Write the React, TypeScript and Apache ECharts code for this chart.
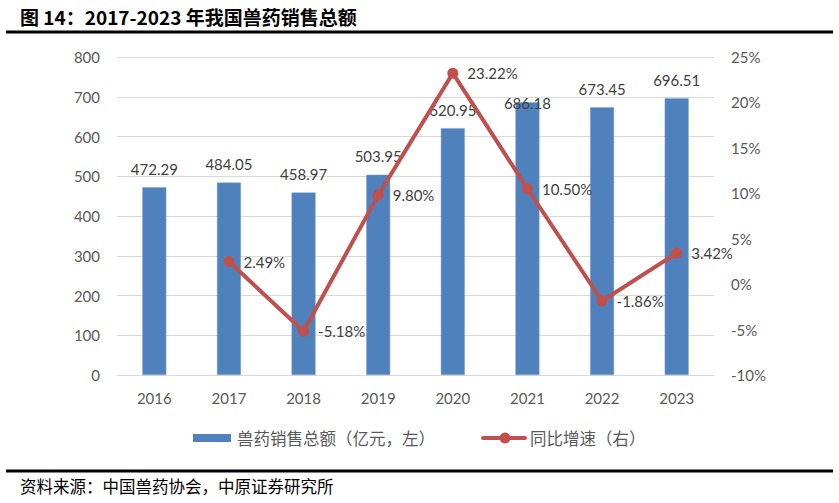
import React, { useEffect, useRef } from "react";
import * as echarts from "echarts";

const categories = ["2016", "2017", "2018", "2019", "2020", "2021", "2022", "2023"];
const salesValues = [472.29, 484.05, 458.97, 503.95, 620.95, 686.18, 673.45, 696.51];
const growthValues: (number | null)[] = [null, 2.49, -5.18, 9.8, 23.22, 10.5, -1.86, 3.42];
const leftTicks = { min: 0, max: 800, interval: 100 };
const rightTicks = { min: -10, max: 25, interval: 5 };

const TITLE = "图 14：2017-2023 年我国兽药销售总额";
const SOURCE = "资料来源：中国兽药协会，中原证券研究所";
const BAR_NAME = "兽药销售总额（亿元，左）";
const LINE_NAME = "同比增速（右）";

const LATIN = "Lato, 'Open Sans', 'Noto Sans CJK SC', sans-serif";
const CJK = "'Noto Sans CJK SC', sans-serif";
const BAR_COLOR = "#4f81bd";
const LINE_COLOR = "#c0504d";

export default function App() {
  const ref = useRef<HTMLDivElement>(null);
  useEffect(() => {
    if (!ref.current) return;
    const chart = echarts.init(ref.current, undefined, { renderer: "svg" });
    chart.setOption({
      animation: false,
      backgroundColor: "#ffffff",
      grid: { left: 117, right: 125, top: 57, bottom: 128, containLabel: false },
      graphic: [
        {
          type: "text",
          x: 20,
          y: 16,
          style: { text: TITLE, font: `bold 19px ${CJK}`, fill: "#000", verticalAlign: "middle" },
        },
        { type: "line", shape: { x1: 6, y1: 32, x2: 833, y2: 32 }, style: { stroke: "#000", lineWidth: 3 } },
        { type: "line", shape: { x1: 6, y1: 471, x2: 833, y2: 471 }, style: { stroke: "#000", lineWidth: 3 } },
        {
          type: "text",
          x: 20,
          y: 486,
          style: { text: SOURCE, font: `16.5px ${CJK}`, fill: "#000", verticalAlign: "middle" },
        },
        // legend
        { type: "rect", shape: { x: 193, y: 434, width: 38, height: 8 }, style: { fill: BAR_COLOR } },
        {
          type: "text",
          x: 237,
          y: 438,
          style: { text: BAR_NAME, font: `16.5px ${CJK}`, fill: "#595959", verticalAlign: "middle" },
        },
        {
          type: "line",
          shape: { x1: 483, y1: 438, x2: 525, y2: 438 },
          style: { stroke: LINE_COLOR, lineWidth: 4, lineCap: "round" },
        },
        { type: "circle", shape: { cx: 505, cy: 438, r: 5.5 }, style: { fill: LINE_COLOR } },
        {
          type: "text",
          x: 530,
          y: 438,
          style: { text: LINE_NAME, font: `16.5px ${CJK}`, fill: "#595959", verticalAlign: "middle" },
        },
      ],
      xAxis: {
        type: "category",
        data: categories,
        axisLine: { show: true, lineStyle: { color: "#d9d9d9", width: 1 } },
        axisTick: { show: false },
        axisLabel: { color: "#595959", fontSize: 15, fontFamily: LATIN, margin: 15 },
      },
      yAxis: [
        {
          type: "value",
          min: leftTicks.min,
          max: leftTicks.max,
          interval: leftTicks.interval,
          axisLine: { show: false },
          axisTick: { show: false },
          splitLine: { show: true, lineStyle: { color: "#d9d9d9", width: 1 } },
          axisLabel: { color: "#595959", fontSize: 15, fontFamily: LATIN, margin: 17 },
        },
        {
          type: "value",
          min: rightTicks.min,
          max: rightTicks.max,
          interval: rightTicks.interval,
          position: "right",
          axisLine: { show: false },
          axisTick: { show: false },
          splitLine: { show: false },
          axisLabel: {
            color: "#595959",
            fontSize: 15,
            fontFamily: LATIN,
            margin: 17,
            formatter: (v: number) => `${v}%`,
          },
        },
      ],
      series: [
        {
          name: BAR_NAME,
          type: "bar",
          yAxisIndex: 0,
          barWidth: 24,
          data: salesValues.map((v, i) => ({
            value: v,
            label: categories[i] === "2021" ? { offset: [0, 19] } : undefined,
          })),
          itemStyle: { color: BAR_COLOR, borderColor: "#7ea3d4", borderWidth: 0.5 },
          label: {
            show: true,
            position: "top",
            distance: 11,
            color: "#404040",
            fontSize: 15,
            fontFamily: LATIN,
            formatter: (p: any) => Number(p.value).toFixed(2),
          },
          z: 2,
        },
        {
          name: LINE_NAME,
          type: "line",
          yAxisIndex: 1,
          data: growthValues.map((v) => (v === null ? "-" : v)),
          connectNulls: false,
          symbol: "circle",
          symbolSize: 11,
          lineStyle: { color: LINE_COLOR, width: 4 },
          itemStyle: { color: LINE_COLOR },
          label: {
            show: true,
            position: "right",
            distance: 9,
            color: "#404040",
            fontSize: 15,
            fontFamily: LATIN,
            formatter: (p: any) => `${Number(p.value).toFixed(2)}%`,
          },
          z: 3,
        },
      ],
    });
    return () => chart.dispose();
  }, []);
  return <div ref={ref} style={{ width: 839, height: 503, position: "absolute", left: 0, top: 0 }} />;
}
